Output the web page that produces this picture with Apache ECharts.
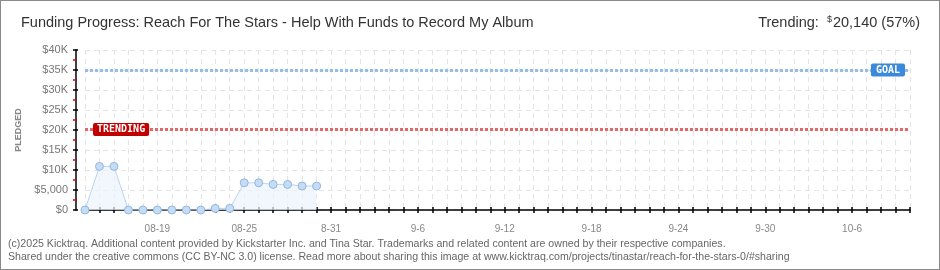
<!DOCTYPE html>
<html>
<head>
<meta charset="utf-8">
<script src="https://cdn.jsdelivr.net/npm/echarts@6/dist/echarts.min.js"></script>
<style>
html,body{margin:0;padding:0;background:#fff;}
#wrap{width:940px;height:270px;box-sizing:border-box;border:1px solid #8a8a8a;position:relative;}
#chart{position:absolute;left:-1px;top:-1px;width:940px;height:270px;}
</style>
</head>
<body>
<div id="wrap"><div id="chart"></div></div>
<script>
// ---- data ----
var dates = ["8-14","8-15","8-16","8-17","8-18","8-19","8-20","8-21","8-22","8-23","8-24","8-25","8-26","8-27","8-28","8-29","8-30","8-31",
  "9-1","9-2","9-3","9-4","9-5","9-6","9-7","9-8","9-9","9-10","9-11","9-12","9-13","9-14","9-15","9-16","9-17","9-18","9-19","9-20",
  "9-21","9-22","9-23","9-24","9-25","9-26","9-27","9-28","9-29","9-30","10-1","10-2","10-3","10-4","10-5","10-6","10-7","10-8","10-9","10-10"];
var pledged = [0, 10900, 10900, 0, 0, 0, 0, 0, 0, 400, 400, 6800, 6800, 6400, 6400, 6000, 6000];
var xTickLabels = ["08-19","08-25","8-31","9-6","9-12","9-18","9-24","9-30","10-6"];
var yTickLabels = ["$0","$5,000","$10K","$15K","$20K","$25K","$30K","$35K","$40K"];
var goal = 35000;
var trending = 20140;
var titleText = "Funding Progress: Reach For The Stars - Help With Funds to Record My Album";
var trendingAmount = "20,140 (57%)";
var footerLines = [
  "(c)2025 Kicktraq. Additional content provided by Kickstarter Inc. and Tina Star. Trademarks and related content are owned by their respective companies.",
  "Shared under the creative commons (CC BY-NC 3.0) license. Read more about sharing this image at www.kicktraq.com/projects/tinastar/reach-for-the-stars-0/#sharing"
];

var chart = echarts.init(document.getElementById('chart'), null, {renderer:'canvas'});
var xLabelFmt = function (v, i) {
  if (i >= 5 && (i - 5) % 6 === 0) { var k = (i - 5) / 6; return xTickLabels[k] || ''; }
  return '';
};
var labelFont = 'Liberation Sans, DejaVu Sans, sans-serif';
var option = {
  animation: false,
  title: [
    { text: titleText, left: 21, top: 15, padding: 0,
      textStyle: { fontFamily: labelFont, fontSize: 14.5, fontWeight: 'normal', color: '#333' } },
    { text: '{a|Trending:  }{s|$}{a|' + trendingAmount + '}', right: 20, top: 15, padding: 0,
      textStyle: { fontWeight: 'normal', rich: {
        a: { fontFamily: labelFont, fontSize: 14.5, fontWeight: 'normal', color: '#333' },
        s: { fontFamily: labelFont, fontSize: 9, fontWeight: 'normal', color: '#333', verticalAlign: 'top', padding: [0,1,6,0] }
      } } },
    { text: footerLines.join('\n'), left: 8, top: 238, padding: 0,
      textStyle: { fontFamily: labelFont, fontSize: 10.6, fontWeight: 'normal', color: '#666', lineHeight: 13 } }
  ],
  grid: { left: 85, right: 30, top: 50, bottom: 60 },
  xAxis: [
    { type: 'category', data: dates, boundaryGap: false, offset: 10,
      axisLine: { lineStyle: { color: '#000', width: 1.5 } },
      axisTick: { interval: 0, length: 3, lineStyle: { color: '#000', width: 1.5 } },
      axisLabel: { interval: 0, formatter: xLabelFmt, margin: 4, color: '#888', fontSize: 10, fontFamily: labelFont },
      splitLine: { show: true, interval: 0, lineStyle: { color: '#e4e4e4', type: [5,4] } } },
    { type: 'category', data: dates, boundaryGap: false, offset: 10, position: 'bottom',
      axisLine: { show: false },
      axisTick: { interval: 0, inside: true, length: 3, lineStyle: { color: '#000', width: 1.5 } },
      axisLabel: { show: false }, splitLine: { show: false } }
  ],
  yAxis: [
    { type: 'value', min: 0, max: 40000, interval: 5000, offset: 9, position: 'left',
      name: 'PLEDGED', nameLocation: 'middle', nameGap: 53, nameRotate: 90,
      nameTextStyle: { fontFamily: labelFont, fontSize: 9, fontWeight: 'bold', color: '#888' },
      axisLine: { show: true, lineStyle: { color: '#000', width: 1.5 } },
      axisTick: { show: true, length: 3, lineStyle: { color: '#000', width: 1.5 } },
      minorTick: { show: true, splitNumber: 2, length: 3, lineStyle: { color: '#e00000', width: 1.5 } },
      axisLabel: { margin: 8, color: '#777', fontSize: 11, fontFamily: labelFont,
        formatter: function (v) { return yTickLabels[Math.round(v / 5000)]; } },
      splitLine: { show: true, lineStyle: { color: '#e4e4e4', type: [5,4] } } },
    { type: 'value', min: 0, max: 40000, interval: 5000, offset: 9, position: 'left',
      axisLine: { show: false },
      axisTick: { show: true, inside: true, length: 2, lineStyle: { color: '#000', width: 1.5 } },
      axisLabel: { show: false }, splitLine: { show: false } }
  ],
  series: [{
    type: 'line', data: pledged, xAxisIndex: 0, yAxisIndex: 0,
    symbol: 'circle', symbolSize: 8,
    itemStyle: { color: '#c4dcf6', borderColor: '#94b6dc', borderWidth: 1 },
    lineStyle: { color: '#b8d4f2', width: 1 },
    areaStyle: { color: '#edf4fc' },
    markLine: {
      symbol: 'none', silent: true,
      data: [
        { yAxis: goal,
          lineStyle: { color: '#94bde8', width: 3, type: [3,2] },
          label: { show: true, formatter: 'GOAL', position: 'insideEnd', distance: 5,
            color: '#fff', backgroundColor: '#3b89da', padding: [2,5,1,5], borderRadius: 2,
            fontFamily: 'DejaVu Sans Mono, monospace', fontSize: 10, fontWeight: 'bold' } },
        { yAxis: trending,
          lineStyle: { color: '#e06a6a', width: 3, type: [3,2] },
          label: { show: true, formatter: 'TRENDING', position: 'insideStart', distance: 8,
            color: '#fff', backgroundColor: '#c00000', padding: [2,4,1,4], borderRadius: 2,
            fontFamily: 'DejaVu Sans Mono, monospace', fontSize: 10, fontWeight: 'bold' } }
      ]
    }
  }]
};
chart.setOption(option);
</script>
</body>
</html>
